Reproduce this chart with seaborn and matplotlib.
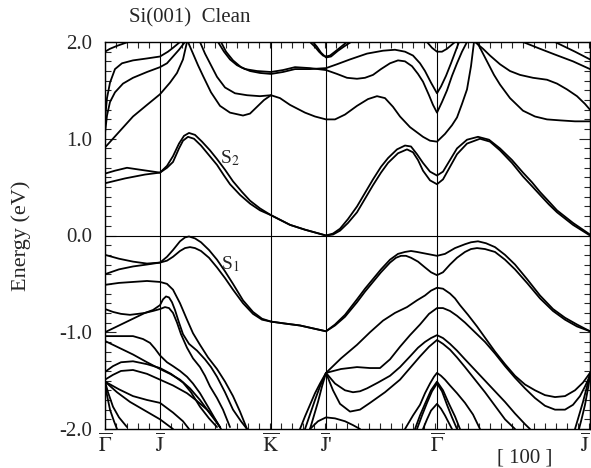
import matplotlib
matplotlib.use("Agg")
import matplotlib.pyplot as plt
import seaborn as sns
import pandas as pd
from matplotlib.ticker import MultipleLocator

# ---- high-symmetry points (k, arbitrary path units) ----
kpt_pos = [0, 55, 166, 221, 332, 485]
kpt_labels = [r"$\overline{\Gamma}$", r"$\overline{\mathrm{J}}$", r"$\overline{\mathrm{K}}$",
              r"$\overline{\mathrm{J}}$'", r"$\overline{\Gamma}$", r"$\overline{\mathrm{J}}$"]
ytick_vals = [-2.0, -1.0, 0.0, 1.0, 2.0]
ytick_text = ["-2.0", "-1.0", "0.0", "1.0", "2.0"]

# ---- bands: (k, E [eV]) ----
S2_up = [(0,0.64),(10,0.67),(22,0.70),(35,0.68),(55,0.65),(62,0.72),(68,0.82),(74,0.95),(79,1.03),
         (84,1.06),(90,1.04),(97,0.97),(105,0.88),(112,0.79),(120,0.68),(128,0.56),(137,0.45),
         (145,0.36),(155,0.28),(166,0.21),(185,0.11),(200,0.06),(221,0.0),
         (228,0.02),(235,0.07),(243,0.17),(252,0.30),(260,0.44),(268,0.58),(276,0.71),(283,0.80),
         (292,0.89),(300,0.93),(306,0.92),(312,0.84),(318,0.75),(325,0.66),(332,0.62),
         (338,0.66),(345,0.78),(352,0.90),(362,0.99),(373,1.02),(384,0.99),(395,0.90),(407,0.78),
         (418,0.65),(427,0.55),(435,0.45),(444,0.35),(452,0.26),(468,0.13),(485,0.01)]
S2_lo = [(0,0.54),(20,0.59),(40,0.63),(55,0.65),(62,0.70),(68,0.76),(74,0.90),(78,0.98),(83,1.02),
         (89,1.00),(96,0.93),(104,0.83),(112,0.73),(119,0.62),(125,0.53),(135,0.42),(145,0.33),
         (155,0.26),(166,0.21),(185,0.11),(200,0.06),(221,0.0),
         (228,0.01),(235,0.05),(243,0.13),(252,0.24),(260,0.38),(268,0.52),(276,0.65),(283,0.75),
         (293,0.85),(302,0.89),(308,0.86),(313,0.78),(318,0.67),(325,0.57),(332,0.53),
         (338,0.58),(345,0.71),(352,0.84),(362,0.95),(375,1.00),(385,0.97),(395,0.88),(407,0.75),
         (418,0.61),(427,0.51),(435,0.42),(444,0.32),(452,0.24),(468,0.11),(485,0.0)]
U1 = [(0,0.91),(14,1.07),(28,1.23),(42,1.35),(55,1.46),(65,1.58),(72,1.68),(78,1.82),(82,2.0)]
U2 = [(0,1.20),(2,1.42),(5,1.58),(10,1.72),(17,1.78),(28,1.81),(42,1.83),(55,1.85),(63,1.90),(68,1.94),(75,2.0)]
U3 = [(0,1.06),(2,1.24),(5,1.38),(10,1.48),(18,1.57),(28,1.63),(42,1.69),(55,1.74),(62,1.78),(68,1.85),(74,1.92),(80,2.0)]
U4 = [(0,1.90),(5,1.93),(12,1.96),(23,2.0)]
D1 = [(83,2.0),(88,1.88),(93,1.76),(98,1.65),(106,1.48),(115,1.34),(125,1.27),(138,1.24),(145,1.26),
      (152,1.33),(159,1.40),(166,1.45),(175,1.42),(185,1.35),(200,1.27),(210,1.23),
      (221,1.20),(230,1.20),(240,1.25),(252,1.34),(263,1.41),(272,1.44),(280,1.42),(288,1.33),
      (295,1.23),(305,1.12),(318,1.02),(325,0.98),(332,0.97),(340,1.05),(347,1.14),(352,1.22),
      (357,1.36),(362,1.51),(366,1.75),(369,2.0)]
D2 = [(95,2.0),(100,1.88),(105,1.78),(112,1.64),(120,1.53),(130,1.47),(142,1.45),(155,1.44),(166,1.45)]
E1 = [(113,2.0),(119,1.90),(125,1.82),(132,1.76),(140,1.72),(152,1.70),(166,1.69),(178,1.71),(190,1.74),
      (205,1.73),(221,1.71),(232,1.67),(242,1.63),(252,1.62),(260,1.63),(268,1.66),(276,1.72),
      (285,1.78),(293,1.81),(300,1.80),(307,1.75),(313,1.67),(318,1.59),(324,1.45),(328,1.35),
      (332,1.27),(337,1.38),(342,1.50),(347,1.65),(352,1.78),(357,1.90),(362,2.0)]
E2 = [(116,2.0),(121,1.90),(128,1.81),(136,1.74),(145,1.70),(155,1.68),(166,1.67),(178,1.69),
      (190,1.72),(205,1.72),(221,1.73),(232,1.77),(245,1.82),(262,1.88),(278,1.91),(290,1.92),
      (300,1.90),(308,1.86),(315,1.78),(320,1.70),(326,1.58),(332,1.47),(336,1.54),(341,1.65),
      (346,1.78),(350,1.89),(354,2.0)]
V1 = [(205,2.0),(210,1.95),(214,1.90),(218,1.86),(221,1.85),(225,1.86),(230,1.90),(236,1.95),(242,2.0)]
V2 = [(208,2.0),(212,1.95),(216,1.89),(221,1.84),(226,1.85),(233,1.91),(240,1.96),(246,2.0)]
V3 = [(322,2.0),(327,1.94),(332,1.90),(337,1.90),(342,1.93),(350,2.0)]
F1 = [(370,2.0),(378,1.93),(385,1.86),(395,1.77),(405,1.70),(415,1.66),(428,1.63),(442,1.61),
      (452,1.57),(462,1.51),(472,1.44),(480,1.36),(485,1.30)]
F2 = [(372,2.0),(377,1.90),(383,1.78),(389,1.66),(395,1.56),(405,1.42),(418,1.29),(430,1.23),
      (442,1.20),(455,1.19),(470,1.18),(485,1.18)]
G1 = [(418,2.0),(435,1.93),(450,1.87),(468,1.80),(485,1.72)]
G2 = [(450,2.0),(470,1.90),(485,1.82)]

S1_up = [(0,-0.20),(14,-0.24),(28,-0.27),(42,-0.29),(55,-0.28),(62,-0.22),(68,-0.15),(75,-0.06),
         (80,-0.02),(84,-0.01),(90,-0.03),(96,-0.07),(104,-0.15),(112,-0.25),(120,-0.37),(128,-0.50),
         (138,-0.67),(148,-0.79),(157,-0.86),(166,-0.89),(180,-0.91),(195,-0.93),(208,-0.96),(221,-0.99),
         (230,-0.92),(240,-0.82),(252,-0.66),(260,-0.55),(268,-0.45),(276,-0.35),(285,-0.25),
         (293,-0.19),(300,-0.17),(306,-0.16),(312,-0.17),(322,-0.19),(332,-0.21),(340,-0.19),(350,-0.13),
         (360,-0.09),(366,-0.07),(373,-0.06),(381,-0.08),(390,-0.12),(400,-0.20),(410,-0.30),(422,-0.45),
         (435,-0.62),(448,-0.76),(460,-0.85),(472,-0.92),(485,-0.99)]
S1_lo = [(0,-0.40),(14,-0.35),(28,-0.32),(42,-0.30),(55,-0.28),(62,-0.26),(68,-0.22),(75,-0.16),
         (80,-0.13),(85,-0.12),(90,-0.13),(96,-0.16),(104,-0.23),(112,-0.33),(120,-0.44),(128,-0.56),
         (138,-0.70),(148,-0.81),(157,-0.87),(166,-0.89),(180,-0.91),(195,-0.93),(208,-0.96),(221,-0.99),
         (230,-0.93),(240,-0.84),(252,-0.69),(260,-0.58),(268,-0.48),(276,-0.38),(285,-0.28),
         (291,-0.23),(296,-0.21),(301,-0.21),(306,-0.23),(313,-0.27),(320,-0.33),(326,-0.38),(332,-0.41),
         (338,-0.38),(345,-0.30),(352,-0.23),(360,-0.17),(366,-0.14),(372,-0.13),(380,-0.14),(390,-0.17),
         (400,-0.25),(410,-0.35),(422,-0.49),(435,-0.65),(448,-0.78),(460,-0.87),(472,-0.94),(485,-0.99)]
L1 = [(0,-0.51),(14,-0.49),(28,-0.48),(42,-0.47),(55,-0.48),(62,-0.50),(68,-0.56),(75,-0.70),(82,-0.87),
      (88,-1.01),(95,-1.13),(103,-1.26),(112,-1.38),(120,-1.51),(128,-1.66),(135,-1.82),(142,-2.0)]
L2 = [(0,-1.0),(10,-0.95),(20,-0.90),(30,-0.85),(40,-0.80),(48,-0.77),(55,-0.72),(58,-0.66),(61,-0.63),
      (64,-0.64),(67,-0.69),(70,-0.77),(74,-0.90),(78,-1.02),(84,-1.12),(92,-1.19),(100,-1.28),
      (106,-1.36),(112,-1.46),(120,-1.62),(128,-1.80),(136,-1.92),(142,-2.0)]
L3 = [(0,-0.76),(8,-0.79),(16,-0.81),(25,-0.82),(33,-0.81),(40,-0.80),(48,-0.78),(55,-0.76),
      (60,-0.74),(64,-0.75),(68,-0.80),(72,-0.90),(76,-1.02),(82,-1.16),(88,-1.27),(95,-1.36),
      (100,-1.45),(105,-1.56),(112,-1.68),(118,-1.80),(125,-1.98)]
L4 = [(0,-1.04),(14,-1.04),(28,-1.04),(38,-1.07),(45,-1.11),(50,-1.17),(55,-1.24),(62,-1.31),(68,-1.35),
      (75,-1.40),(82,-1.46),(88,-1.53),(95,-1.63),(103,-1.77),(112,-1.93),(116,-2.0)]
L5 = [(0,-1.09),(14,-1.16),(28,-1.23),(42,-1.31),(55,-1.38),(65,-1.43),(75,-1.49),(85,-1.58),
      (95,-1.70),(105,-1.84),(115,-1.98)]
L6 = [(0,-1.41),(8,-1.35),(16,-1.31),(28,-1.30),(42,-1.33),(55,-1.37),(66,-1.43),(78,-1.52),
      (86,-1.62),(95,-1.77),(104,-1.89),(112,-1.98)]
L7 = [(0,-1.49),(8,-1.44),(16,-1.40),(28,-1.39),(42,-1.43),(55,-1.49),(68,-1.55),(82,-1.63),
      (92,-1.71),(102,-1.80),(110,-1.90),(115,-1.98)]
L8 = [(0,-1.51),(14,-1.59),(28,-1.66),(42,-1.70),(55,-1.73),(68,-1.83),(78,-1.92),(84,-2.0)]
L9 = [(0,-1.51),(12,-1.62),(25,-1.72),(40,-1.81),(55,-1.90),(68,-2.0)]
L10 = [(0,-1.51),(3,-1.62),(8,-1.77),(14,-1.88),(22,-1.98)]
L11 = [(0,-1.51),(2,-1.65),(5,-1.80),(9,-1.92),(12,-2.0)]

A1 = [(221,-1.42),(236,-1.27),(252,-1.13),(265,-1.00),(278,-0.88),(290,-0.80),(302,-0.74),(312,-0.67),
      (320,-0.62),(326,-0.57),(332,-0.54),(338,-0.55),(345,-0.60),(350,-0.65),(355,-0.72),(363,-0.82),
      (372,-0.94),(381,-1.07),(390,-1.20),(400,-1.33),(410,-1.45),(420,-1.54),(430,-1.60),(440,-1.65),
      (450,-1.67),(460,-1.66),(470,-1.60),(478,-1.52),(485,-1.42)]
A2 = [(221,-1.42),(236,-1.38),(252,-1.36),(265,-1.37),(275,-1.37),(285,-1.28),(295,-1.15),(305,-1.03),
      (315,-0.92),(324,-0.81),(332,-0.75),(338,-0.75),(345,-0.78),(352,-0.83),(360,-0.90),(370,-1.00),
      (380,-1.10),(390,-1.22),(400,-1.35),(410,-1.47),(420,-1.58),(430,-1.68),(440,-1.76),(450,-1.80),
      (460,-1.80),(468,-1.75),(475,-1.66),(480,-1.56),(485,-1.45)]
A3 = [(221,-1.42),(230,-1.53),(240,-1.60),(248,-1.62),(255,-1.61),(262,-1.58),(273,-1.52),(285,-1.45),
      (295,-1.36),(305,-1.25),(313,-1.16),(320,-1.10),(326,-1.06),(332,-1.03),(338,-1.06),(345,-1.12),
      (352,-1.19),(360,-1.28),(370,-1.39),(380,-1.50),(390,-1.61),(400,-1.72),(410,-1.84),(420,-1.95),(425,-2.0)]
A4 = [(221,-1.42),(228,-1.60),(235,-1.74),(245,-1.82),(255,-1.80),(265,-1.73),(280,-1.62),(295,-1.49),
      (305,-1.37),(315,-1.25),(324,-1.15),(332,-1.08),(338,-1.12),(345,-1.18),(352,-1.26),(360,-1.36),
      (370,-1.49),(380,-1.62),(390,-1.76),(400,-1.90),(410,-2.0)]
A5 = [(300,-2.0),(308,-1.86),(315,-1.75),(320,-1.63),(325,-1.53),(329,-1.46),(332,-1.42),(336,-1.45),
      (340,-1.49),(345,-1.55),(352,-1.63),(360,-1.73),(368,-1.85),(375,-2.0)]
A6 = [(310,-2.0),(315,-1.86),(320,-1.74),(326,-1.60),(332,-1.51),(338,-1.60),(344,-1.74),(350,-1.87),(355,-2.0)]
A7 = [(312,-2.0),(317,-1.86),(322,-1.73),(327,-1.61),(332,-1.53),(337,-1.61),(342,-1.75),(347,-1.88),(352,-2.0)]
A8 = [(318,-2.0),(322,-1.90),(326,-1.81),(332,-1.74),(336,-1.79),(340,-1.86),(347,-2.0)]
A9 = [(195,-2.0),(200,-1.87),(205,-1.75),(210,-1.63),(215,-1.53),(221,-1.42)]
A10 = [(200,-2.0),(205,-1.85),(210,-1.70),(215,-1.56),(221,-1.42)]
A11 = [(205,-2.0),(209,-1.86),(213,-1.72),(217,-1.56),(221,-1.42)]
A12 = [(205,-2.0),(213,-1.92),(221,-1.88),(230,-1.89),(240,-1.92),(248,-1.96),(255,-2.0)]
A13 = [(470,-2.0),(474,-1.86),(478,-1.72),(482,-1.56),(485,-1.42)]
A14 = [(474,-2.0),(477,-1.88),(480,-1.75),(483,-1.58),(485,-1.45)]

bands = [S2_up, S2_lo, U1, U2, U3, U4, D1, D2, E1, E2, V1, V2, V3, F1, F2, G1, G2,
         S1_up, S1_lo, L1, L2, L3, L4, L5, L6, L7, L8, L9, L10, L11,
         A1, A2, A3, A4, A5, A6, A7, A8, A9, A10, A11, A12, A13, A14]

rows = []
for i, b in enumerate(bands):
    for j, (k, e) in enumerate(b):
        rows.append({"band": i, "order": j, "k": k, "E": e})
df = pd.DataFrame(rows)

sns.set_theme(style="white")
plt.rcParams["font.family"] = ["Liberation Serif", "DejaVu Serif"]
plt.rcParams["mathtext.fontset"] = "stix"
plt.rcParams["axes.unicode_minus"] = False

fig = plt.figure(figsize=(5.91, 4.68), dpi=100)
ax = fig.add_axes([105/591, 1-429/468, (590-105)/591, (429-42)/468])

for kx in kpt_pos:
    ax.axvline(kx, color="black", lw=0.8, zorder=1)
ax.axhline(0.0, color="black", lw=0.8, zorder=1)

sns.lineplot(data=df, x="k", y="E", units="band", estimator=None, sort=False,
             color="black", lw=1.3, ax=ax, legend=False)

ax.set_xlim(0, 485)
ax.set_ylim(-2.0, 2.0)
ax.set_xticks(kpt_pos)
ax.set_xticklabels(kpt_labels, fontsize=15)
ax.get_xticklabels()[-1].set_horizontalalignment("right")
ax.set_yticks(ytick_vals)
ax.set_yticklabels(ytick_text, fontsize=15)
ax.xaxis.set_minor_locator(MultipleLocator(11.0))
ax.yaxis.set_minor_locator(MultipleLocator(0.1))
ax.tick_params(axis="x", which="major", length=0, pad=3)
ax.tick_params(axis="x", which="minor", direction="in", length=4, top=True, bottom=True, width=0.8)
ax.tick_params(axis="y", which="major", direction="in", length=8, left=True, right=True, width=0.8, pad=9)
ax.tick_params(axis="y", which="minor", direction="in", length=4, left=True, right=True, width=0.8)
for s in ax.spines.values():
    s.set_color("black")
    s.set_linewidth(1.0)
ax.set_xlabel("")
ax.set_ylabel("Energy (eV)", fontsize=16)
ax.yaxis.set_label_coords(-74/485, 0.5)

ax.text(125, 0.80, "S$_2$", fontsize=14, ha="center", va="center")
ax.text(125, -0.30, "S$_1$", fontsize=14, ha="center", va="center")
fig.text(190/591, 1-18/468, "Si(001)  Clean", fontsize=15, ha="center", va="center")
fig.text(525/591, 1-458/468, "[ 100 ]", fontsize=15, ha="center", va="center")

fig.savefig("out.png", dpi=100)
